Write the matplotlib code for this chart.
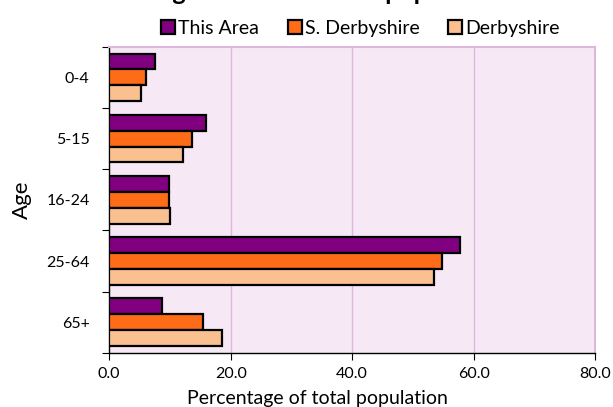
import matplotlib.pyplot as plt
import numpy as np

ages = ["0-4", "5-15", "16-24", "25-64", "65+"]
this_area = [7.6, 15.9, 9.8, 57.8, 8.7]
s_derbyshire = [6.0, 13.6, 9.9, 54.8, 15.4]
derbyshire = [5.3, 12.2, 10.1, 53.4, 18.5]
series_names = ["This Area", "S. Derbyshire", "Derbyshire"]
colors = ["#800080", "#FF6C17", "#FAC090"]

plt.rcParams['font.family'] = ['Lato', 'DejaVu Sans']

fig = plt.figure(figsize=(6.13, 4.07), dpi=100)
ax = fig.add_axes([0.178, 0.133, 0.793, 0.752])
ax.set_facecolor("#F6E9F5")

y = np.arange(len(ages))
h = 0.26
for i, (vals, name, c) in enumerate(zip([this_area, s_derbyshire, derbyshire], series_names, colors)):
    ax.barh(y + (i - 1) * h, vals, height=h, color=c, edgecolor="black",
            linewidth=1.6, label=name, zorder=3)

ax.set_xlim(0, 80)
ax.set_ylim(len(ages) - 0.5, -0.5)
ax.set_xticks([0, 20, 40, 60, 80])
ax.set_xticklabels([f"{v:.1f}" for v in [0, 20, 40, 60, 80]], fontsize=11.5)
ax.xaxis.grid(True, color="#DDB8DC", linewidth=1, zorder=0)

ax.set_yticks(np.arange(len(ages) + 1) - 0.5)
ax.set_yticklabels([])
ax.set_yticks(y, minor=True)
ax.set_yticklabels(ages, minor=True, fontsize=11.5)
ax.tick_params(axis="y", which="minor", length=0, pad=14)
ax.tick_params(axis="y", which="major", length=5, direction="out")
ax.tick_params(axis="x", length=5, direction="out", pad=5)

for s in ["top", "right"]:
    ax.spines[s].set_color("#DDB8DC")
    ax.spines[s].set_linewidth(1.5)
for s in ["left", "bottom"]:
    ax.spines[s].set_color("black")
    ax.spines[s].set_linewidth(1)

ax.set_xlabel("Percentage of total population", fontsize=14, labelpad=7)
ax.xaxis.label.set_x(0.428)
ax.set_ylabel("Age", fontsize=16, labelpad=10)

fig.text(0.538, 1.0, "Age structure of the population", fontsize=18,
         fontweight="bold", ha="center", va="baseline")

ax.legend(loc="lower center", bbox_to_anchor=(0.517, 1.0), ncol=3, frameon=False,
          fontsize=14, handlelength=0.7, handleheight=0.7, handletextpad=0.15,
          columnspacing=1.5, borderaxespad=0.1)

fig.savefig("out.png", dpi=100)
